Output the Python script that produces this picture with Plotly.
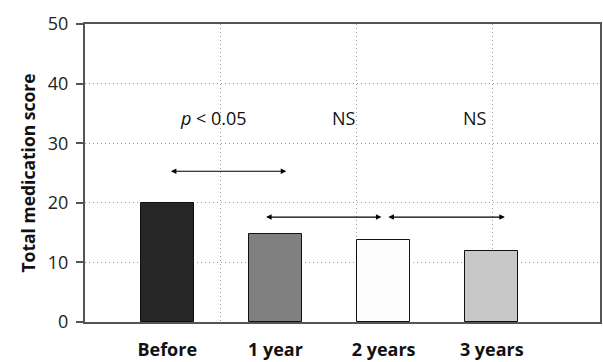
import plotly.graph_objects as go

categories = ["Before", "1 year", "2 years", "3 years"]
scores = [20.0, 14.8, 13.8, 11.9]
bar_colors = ["#262626", "#808080", "#fdfdfd", "#c8c8c8"]

# comparisons: (start, end, y level, label, label x)
cmp_start = [0.02, 0.9, 2.03]
cmp_end = [1.1, 1.98, 3.12]
cmp_y = [25.3, 17.6, 17.6]
cmp_labels = ["<i>p</i> < 0.05", "NS", "NS"]
label_x = [0.43, 1.63, 2.84]
label_y = 34.3

y_ticks = [0, 10, 20, 30, 40, 50]
FONT = "Open Sans"
AX = "#555555"
GRID = "#9a9a9a"

x = list(range(len(categories)))
fig = go.Figure()
fig.add_trace(go.Bar(
    x=x, y=scores, width=0.49,
    marker=dict(color=bar_colors, line=dict(color="#111111", width=1)),
    showlegend=False, hoverinfo="skip",
))
# invisible trace to activate secondary x axis for vertical grid
fig.add_trace(go.Scatter(x=[0], y=[0], xaxis="x2", mode="markers",
                         marker=dict(opacity=0), showlegend=False, hoverinfo="skip"))

for s, e, yv in zip(cmp_start, cmp_end, cmp_y):
    fig.add_annotation(x=e, y=yv, ax=s, ay=yv, xref="x", yref="y", axref="x", ayref="y",
                       text="", showarrow=True, arrowhead=2, arrowside="end+start",
                       arrowsize=1, arrowwidth=1.1, arrowcolor="#000000", standoff=0, startstandoff=0)
for lx, t in zip(label_x, cmp_labels):
    fig.add_annotation(x=lx, y=label_y, xref="x", yref="y", text=t, showarrow=False,
                       font=dict(family=FONT, size=18, color="#111111"))

fig.update_layout(
    width=603, height=362,
    margin=dict(l=85, r=1, t=24, b=38),
    plot_bgcolor="white", paper_bgcolor="white",
    font=dict(family=FONT, size=17, color="#111111"),
    bargap=0,
    xaxis=dict(
        range=[-0.76, 4.0], tickmode="array", tickvals=x, ticktext=["<b>%s</b>" % c for c in categories],
        showgrid=False, showline=True, linecolor=AX, linewidth=2, mirror=True,
        ticks="", ticklabelstandoff=10, tickfont=dict(size=18, family=FONT), zeroline=False,
    ),
    xaxis2=dict(
        overlaying="x", range=[0, 3.788], dtick=1, tick0=0, showgrid=True,
        gridcolor=GRID, griddash="1px,3px", gridwidth=1, showticklabels=False,
        ticks="", zeroline=False, showline=False,
    ),
    yaxis=dict(
        range=[0, 50], tickvals=y_ticks, showgrid=True, gridcolor=GRID, griddash="1px,3px",
        gridwidth=1, showline=True, linecolor=AX, linewidth=2, mirror=True,
        ticks="outside", ticklen=7, tickcolor=AX, tickwidth=1.5, ticklabelstandoff=4,
        tickfont=dict(size=18, family=FONT, color="#222222"), zeroline=False,
        title=dict(text="<b>Total medication score</b>", font=dict(size=17.5, family=FONT), standoff=8),
    ),
)
fig.write_html("out.html", config={"displayModeBar": False},
               post_script="document.body.style.margin='0';")
